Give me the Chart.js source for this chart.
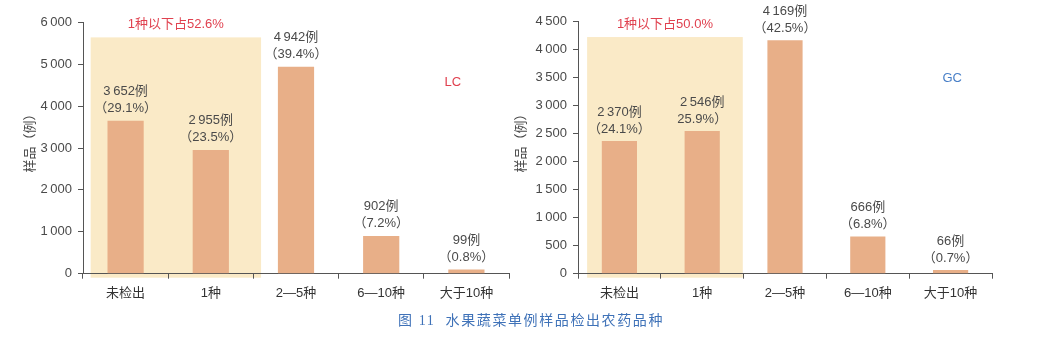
<!DOCTYPE html>
<html><head><meta charset="utf-8">
<script src="https://cdn.jsdelivr.net/npm/chart.js@4"></script>
<style>
html,body{margin:0;padding:0;background:#fff}
body{width:1047px;height:361px;overflow:hidden;position:relative}
#w1{position:absolute;left:0;top:0;width:520px;height:361px}
#w2{position:absolute;left:505px;top:0;width:542px;height:361px}
#cap{position:absolute;left:398px;top:311px;font-family:"Liberation Serif","Noto Sans CJK SC",serif;font-size:14px;line-height:20px;color:#3f72b8;letter-spacing:1.6px;white-space:pre}
</style></head><body>
<div id="w1"><canvas id="c1"></canvas></div>
<div id="w2"><canvas id="c2"></canvas></div>
<div id="cap">图 11  水果蔬菜单例样品检出农药品种</div>
<script>
const categories = ['未检出','1种','2—5种','6—10种','大于10种'];
const lcCounts = [3652, 2955, 4942, 902, 99];
const lcPercentLabels = ['（29.1%）','（23.5%）','（39.4%）','（7.2%）','（0.8%）'];
const gcCounts = [2370, 2546, 4169, 666, 66];
const gcPercentLabels = ['（24.1%）','25.9%）','（42.5%）','（6.8%）','（0.7%）'];
const lcYTicks = [0,1000,2000,3000,4000,5000,6000];
const gcYTicks = [0,500,1000,1500,2000,2500,3000,3500,4000,4500];
const lcNote = '1种以下占52.6%';
const gcNote = '1种以下占50.0%';
const yTitle = '样品（例）';

const FONT = '"Liberation Sans","Noto Sans CJK SC",sans-serif';
const TXT = '#4a4a4a';
const THIN = '\u2009';
function fmtNum(n){ const s=String(n); return n>=1000 ? s.slice(0,s.length-3)+THIN+s.slice(-3) : s; }

const overlay = {
  id:'overlay',
  beforeDraw(chart, args, o){
    const {ctx, scales:{x,y}} = chart;
    const step = x.getPixelForValue(1)-x.getPixelForValue(0);
    const x0 = x.getPixelForValue(0) + (o.boxX[0])*step;
    const x1 = x.getPixelForValue(0) + (o.boxX[1])*step;
    const yt = y.getPixelForValue(o.boxTop);
    const yb = y.getPixelForValue(0) + 4;
    ctx.save();
    ctx.fillStyle = '#faeac7';
    ctx.fillRect(x0, yt, x1-x0, yb-yt);
    ctx.font = '13px '+FONT;
    ctx.fillStyle = '#e0414f';
    ctx.textAlign='center'; ctx.textBaseline='middle';
    ctx.fillText(o.note, (x0+x1)/2, yt-13);
    ctx.restore();
  },
  afterDatasetsDraw(chart, args, o){
    const {ctx, scales:{x,y}} = chart;
    const meta = chart.getDatasetMeta(0);
    ctx.save();
    ctx.font = '13px '+FONT;
    ctx.fillStyle = TXT;
    ctx.textAlign='center'; ctx.textBaseline='middle';
    meta.data.forEach((b,i)=>{
      ctx.fillText(o.pcts[i], b.x, b.y-12);
      ctx.fillText(fmtNum(o.counts[i])+'例', b.x, b.y-29);
    });
    ctx.fillStyle = o.tagColor;
    ctx.fillText(o.tag, x.getPixelForValue(o.tagPos[0]), y.getPixelForValue(o.tagPos[1]));
    ctx.translate(o.titleX, 140);
    ctx.rotate(-Math.PI/2);
    ctx.fillStyle = TXT;
    ctx.fillText(yTitle, 0, 0);
    ctx.restore();
  }
};

function make(id, counts, pcts, ticks, note, tag, tagColor, tagPos, boxX, boxTop, yWidth, pad, titleX){
  const max = ticks[ticks.length-1], step = ticks[1]-ticks[0];
  return new Chart(document.getElementById(id), {
    type:'bar',
    data:{labels:categories, datasets:[{data:counts, backgroundColor:'#e8af88', borderWidth:0, categoryPercentage:1, barPercentage:0.425}]},
    options:{
      responsive:true, maintainAspectRatio:false, animation:false,
      layout:{padding:pad},
      plugins:{legend:{display:false}, tooltip:{enabled:false},
        overlay:{counts, pcts, note, tag, tagColor, tagPos, boxX, boxTop, titleX}},
      scales:{
        x:{
          grid:{drawOnChartArea:false, drawTicks:true, tickLength:5, color:'#555', offset:true},
          border:{display:true, color:'#555', width:1},
          ticks:{color:'#333', font:{size:13, family:FONT}, padding:7, maxRotation:0},
          afterFit(s){ s.height = 40; }
        },
        y:{
          min:0, max:max,
          grid:{drawOnChartArea:false, drawTicks:true, tickLength:5, color:'#555'},
          border:{display:true, color:'#555', width:1},
          ticks:{stepSize:step, color:TXT, font:{size:13, family:FONT}, padding:6, callback:v=>fmtNum(v)},
          afterFit(s){ s.width = yWidth; }
        }
      }
    },
    plugins:[overlay]
  });
}

make('c1', lcCounts, lcPercentLabels, lcYTicks, lcNote, 'LC', '#e0414f', [3.84, 4564], [-0.41, 1.59], 5640, 83, {left:0,right:11,top:22.3,bottom:47.3}, 30);
make('c2', gcCounts, gcPercentLabels, gcYTicks, gcNote, 'GC', '#4a80c8', [4.02, 3495], [-0.39, 1.49], 4226, 73, {left:0,right:55,top:21.7,bottom:47.3}, 16);
</script>
</body></html>
